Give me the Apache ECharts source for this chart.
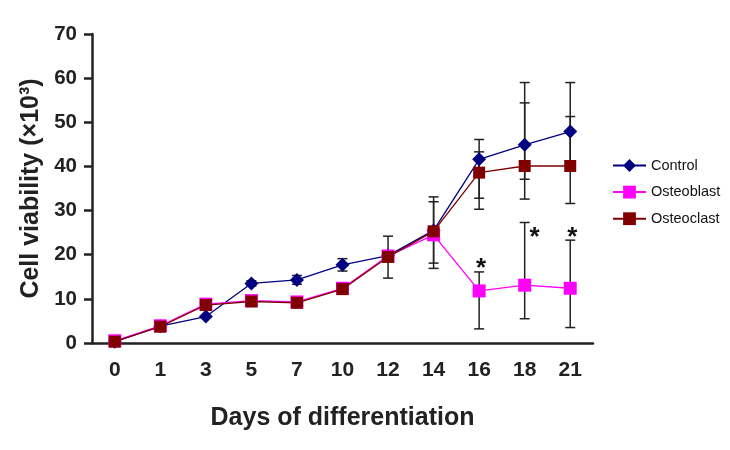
<!DOCTYPE html>
<html>
<head>
<meta charset="utf-8">
<script src="https://cdn.jsdelivr.net/npm/echarts@6/dist/echarts.min.js"></script>
<style>html,body{margin:0;padding:0;background:#fff}#c{width:730px;height:450px}</style>
</head>
<body>
<div id="c"></div>
<script>
var days = ['0','1','3','5','7','10','12','14','16','18','21'];
var yTicks = [0,10,20,30,40,50,60,70];

var control    = [0.3, 3.8, 6.0, 13.5, 14.3, 17.7, 19.8, 25.5, 41.6, 44.9, 47.9];
var osteoblast = [0.5, 3.9, 8.8, 9.6, 9.3, 12.4, 19.7, 24.5, 11.8, 13.1, 12.4];
var osteoclast = [0.3, 3.7, 8.6, 9.4, 9.1, 12.2, 19.5, 25.3, 38.6, 40.1, 40.1];

// error bars [low, high] per day (null = none visible)
var controlErr    = [null, null, null, [12.9,14.1], [13.3,15.3], [16.3,19.1], [14.7,24.2], [16.9,33.1], [32.8,46.1], [32.6,59.0], [40.5,59.0]];
var osteoblastErr = [null, null, null, null, null, null, null, null, [3.2,16.1], [5.5,27.3], [3.5,23.3]];
var osteoclastErr = [null, null, null, null, null, null, null, [18.1,32.0], [30.3,43.3], [37.1,54.4], [31.6,51.3]];

// significance marks: [day, value]
var sigMarks = [['16', 18.2], ['18', 25.2], ['21', 25.2]];

var errData = [];
[controlErr, osteoblastErr, osteoclastErr].forEach(function (arr) {
  arr.forEach(function (e, i) { if (e) errData.push([i, e[0], e[1]]); });
});

var chart = echarts.init(document.getElementById('c'));
var FONT = 'Liberation Sans, Arial, sans-serif';
chart.setOption({
  animation: false,
  grid: { left: 92, right: 137, top: 34, bottom: 107, containLabel: false },
  legend: {
    orient: 'vertical', left: 612, top: 158, padding: 0,
    itemWidth: 33, itemHeight: 16, itemGap: 11.6,
    textStyle: { fontFamily: FONT, fontSize: 14.5, color: '#111' },
    data: ['Control', 'Osteoblast', 'Osteoclast']
  },
  xAxis: {
    type: 'category', data: days, boundaryGap: true,
    name: 'Days of differentiation', nameLocation: 'middle', nameGap: 63,
    nameTextStyle: { fontFamily: FONT, fontSize: 25, fontWeight: 'bold', color: '#222' },
    axisLine: { lineStyle: { color: '#222', width: 2.5 } },
    axisTick: { length: 13, lineStyle: { color: '#222', width: 2.5 } },
    axisLabel: { margin: 17, fontFamily: FONT, fontSize: 21, fontWeight: 'bold', color: '#222' }
  },
  yAxis: {
    type: 'value', min: 0, max: 70, interval: 10,
    name: 'Cell viability (×10³)', nameLocation: 'middle', nameGap: 47,
    nameTextStyle: { fontFamily: FONT, fontSize: 25, fontWeight: 'bold', color: '#222' },
    axisLine: { show: true, lineStyle: { color: '#222', width: 2.5 } },
    axisTick: { show: true, length: 8, lineStyle: { color: '#222', width: 2.5 } },
    splitLine: { show: false },
    axisLabel: { margin: 15, fontFamily: FONT, fontSize: 20.5, fontWeight: 'bold', color: '#222',
      formatter: function (v) { return yTicks.indexOf(v) >= 0 ? String(v) : ''; } }
  },
  series: [
    {
      type: 'custom', name: 'err', z: 1, silent: true,
      renderItem: function (params, api) {
        var x = api.value(0);
        var lo = api.coord([x, api.value(1)]);
        var hi = api.coord([x, api.value(2)]);
        var w = 5;
        var st = { stroke: '#222', lineWidth: 1.5 };
        return { type: 'group', children: [
          { type: 'line', shape: { x1: lo[0], y1: lo[1], x2: hi[0], y2: hi[1] }, style: st },
          { type: 'line', shape: { x1: lo[0]-w, y1: lo[1], x2: lo[0]+w, y2: lo[1] }, style: st },
          { type: 'line', shape: { x1: hi[0]-w, y1: hi[1], x2: hi[0]+w, y2: hi[1] }, style: st }
        ]};
      },
      encode: { x: 0, y: [1, 2] },
      data: errData
    },
    {
      name: 'Control', type: 'line', z: 2, data: control,
      symbol: 'diamond', symbolSize: 14, showAllSymbol: true,
      itemStyle: { color: '#000080' }, lineStyle: { color: '#000080', width: 1.3 }
    },
    {
      name: 'Osteoblast', type: 'line', z: 3, data: osteoblast,
      symbol: 'rect', symbolSize: 13, showAllSymbol: true,
      itemStyle: { color: '#ff00ff' }, lineStyle: { color: '#ff00ff', width: 1.3 }
    },
    {
      name: 'Osteoclast', type: 'line', z: 4, data: osteoclast,
      symbol: 'rect', symbolSize: 12, showAllSymbol: true,
      itemStyle: { color: '#800000' }, lineStyle: { color: '#800000', width: 1.3 }
    },
    {
      type: 'custom', name: 'sig', z: 5, silent: true,
      renderItem: function (params, api) {
        var p = api.coord([api.value(0), api.value(1)]);
        var dx = days[api.value(0)] === '18' ? 10 : 2;
        return { type: 'text', style: { text: '*', x: p[0] + dx, y: p[1] + 6,
          fontFamily: FONT, fontSize: 26, fontWeight: 'bold', fill: '#111',
          textAlign: 'center', textVerticalAlign: 'middle' } };
      },
      data: sigMarks.map(function (s) { return [days.indexOf(s[0]), s[1]]; })
    }
  ]
});
</script>
</body>
</html>
